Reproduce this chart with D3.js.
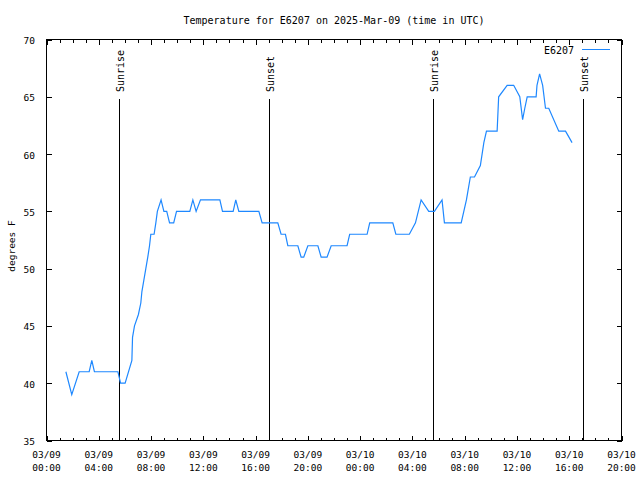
<!DOCTYPE html>
<html>
<head>
<meta charset="utf-8">
<script src="https://cdn.jsdelivr.net/npm/d3@7"></script>
<style>
  html, body { margin: 0; padding: 0; background: #fff; }
  svg { display: block; }
  text { font-family: "DejaVu Sans Mono", monospace; fill: #000; }
</style>
</head>
<body>
<svg id="chart" width="640" height="480"></svg>
<script>
// ---- data ----
const chartTitle = "Temperature for E6207 on 2025-Mar-09 (time in UTC)";
const seriesName = "E6207";
const yLabel = "degrees F";

const times = [
  "2025-03-09T01:29","2025-03-09T01:56","2025-03-09T02:30","2025-03-09T03:16","2025-03-09T03:28",
  "2025-03-09T03:40","2025-03-09T05:28","2025-03-09T05:40","2025-03-09T06:01","2025-03-09T06:32",
  "2025-03-09T06:35","2025-03-09T06:44","2025-03-09T07:02","2025-03-09T07:13","2025-03-09T07:18",
  "2025-03-09T07:27","2025-03-09T07:36","2025-03-09T07:45","2025-03-09T07:53","2025-03-09T07:59",
  "2025-03-09T08:14","2025-03-09T08:22","2025-03-09T08:29","2025-03-09T08:46","2025-03-09T08:59",
  "2025-03-09T09:12","2025-03-09T09:25","2025-03-09T09:44","2025-03-09T09:57","2025-03-09T10:58",
  "2025-03-09T11:12","2025-03-09T11:27","2025-03-09T11:47","2025-03-09T13:16","2025-03-09T13:28",
  "2025-03-09T14:17","2025-03-09T14:29","2025-03-09T14:43","2025-03-09T16:15","2025-03-09T16:30",
  "2025-03-09T17:42","2025-03-09T17:57","2025-03-09T18:17","2025-03-09T18:28","2025-03-09T19:14",
  "2025-03-09T19:29","2025-03-09T19:41","2025-03-09T20:00","2025-03-09T20:46","2025-03-09T21:01",
  "2025-03-09T21:28","2025-03-09T21:47","2025-03-09T23:00","2025-03-09T23:12","2025-03-10T00:32",
  "2025-03-10T00:44","2025-03-10T02:30","2025-03-10T02:44","2025-03-10T03:46","2025-03-10T04:14",
  "2025-03-10T04:40","2025-03-10T05:15","2025-03-10T05:41","2025-03-10T06:16","2025-03-10T06:27",
  "2025-03-10T07:44","2025-03-10T08:08","2025-03-10T08:26","2025-03-10T08:45","2025-03-10T09:12",
  "2025-03-10T09:28","2025-03-10T09:40","2025-03-10T10:29","2025-03-10T10:36","2025-03-10T11:15",
  "2025-03-10T11:45","2025-03-10T12:13","2025-03-10T12:26","2025-03-10T12:36","2025-03-10T12:47",
  "2025-03-10T13:28","2025-03-10T13:32","2025-03-10T13:44","2025-03-10T13:58","2025-03-10T14:11",
  "2025-03-10T14:26","2025-03-10T15:12","2025-03-10T15:43","2025-03-10T16:13"
];
const temps = [
  41,39,41,41,42,
  41,41,40,40,42,
  44,45,46,47,48,
  49,50,51,52,53,
  53,54,55,56,55,
  55,54,54,55,55,
  56,55,56,56,55,
  55,56,55,55,54,
  54,53,53,52,52,
  51,51,52,52,51,
  51,52,52,53,53,
  54,54,53,53,54,
  56,55,55,56,54,
  54,56,58,58,59,
  61,62,62,65,66,
  66,65,63,64,65,
  65,66,67,66,64,
  64,62,62,61
];

const sunEvents = ["Sunrise","Sunset","Sunrise","Sunset"];
const sunTimes = ["2025-03-09T05:36","2025-03-09T17:05","2025-03-10T05:37","2025-03-10T17:05"];

const xDomain = ["2025-03-09T00:00","2025-03-10T20:00"];
const yDomain = [35, 70];
const yTicks = [35, 40, 45, 50, 55, 60, 65, 70];

// ---- drawing ----
const parse = s => new Date(s + ":00Z");
const data = times.map((t, i) => ({ t: parse(t), v: temps[i] }));

const L = 46.5, R = 621.5, T = 39.5, B = 440.5;
const svg = d3.select("#chart");
const x = d3.scaleUtc().domain(xDomain.map(parse)).range([L, R]);
const y = d3.scaleLinear().domain(yDomain).range([B, T]);

const blue = "#1e88ff";

const endX = new Date(parse(xDomain[1]).getTime() + 1);
const majorX = d3.utcHour.every(4).range(parse(xDomain[0]), endX);
const minorX = d3.utcHour.every(1).range(parse(xDomain[0]), endX);

const g = svg.append("g");

const fmtD = d3.utcFormat("%m/%d"), fmtH = d3.utcFormat("%H:%M");
const xAxisMinor = d3.axisBottom(x).tickValues(minorX).tickSize(-3).tickFormat("");
const xAxisMajor = d3.axisBottom(x).tickValues(majorX).tickSize(-5).tickFormat("");
const xTopMinor = d3.axisTop(x).tickValues(minorX).tickSize(-3).tickFormat("");
const xTopMajor = d3.axisTop(x).tickValues(majorX).tickSize(-5).tickFormat("");
const yAxisL = d3.axisLeft(y).tickValues(yTicks).tickSize(-5).tickFormat("");
const yAxisR = d3.axisRight(y).tickValues(yTicks).tickSize(-5).tickFormat("");

function styleAxis(sel) {
  sel.select(".domain").remove();
  sel.selectAll(".tick line").attr("stroke", "#000").attr("stroke-width", 1).attr("shape-rendering", "crispEdges");
}
g.append("g").attr("transform", `translate(0,${B})`).call(xAxisMinor).call(styleAxis);
g.append("g").attr("transform", `translate(0,${B})`).call(xAxisMajor).call(styleAxis);
g.append("g").attr("transform", `translate(0,${T})`).call(xTopMinor).call(styleAxis);
g.append("g").attr("transform", `translate(0,${T})`).call(xTopMajor).call(styleAxis);
g.append("g").attr("transform", `translate(${L},0)`).call(yAxisL).call(styleAxis);
g.append("g").attr("transform", `translate(${R},0)`).call(yAxisR).call(styleAxis);

// x tick labels (two lines)
const xl = g.append("g");
majorX.forEach(d => {
  const t = xl.append("text").attr("x", x(d)).attr("text-anchor", "middle").attr("font-size", 9.5);
  t.append("tspan").attr("x", x(d)).attr("y", 457.5).text(fmtD(d));
  t.append("tspan").attr("x", x(d)).attr("y", 470.5).text(fmtH(d));
});
// y tick labels
yTicks.forEach(v => {
  g.append("text").attr("x", 35).attr("y", y(v) + 4.5).attr("text-anchor", "end")
    .attr("font-size", 9.5).text(v);
});

// border
g.append("rect").attr("x", L).attr("y", T).attr("width", R - L).attr("height", B - T)
  .attr("fill", "none").attr("stroke", "#000").attr("stroke-width", 1).attr("shape-rendering", "crispEdges");

// sunrise / sunset lines
sunTimes.forEach((s, i) => {
  const xv = Math.floor(x(parse(s))) + 0.5;
  g.append("line").attr("x1", xv).attr("x2", xv).attr("y1", 99).attr("y2", B)
    .attr("stroke", "#000").attr("stroke-width", 1).attr("shape-rendering", "crispEdges");
  g.append("text").attr("transform", `translate(${xv + 4},92) rotate(-90)`)
    .attr("text-anchor", "start").attr("font-size", 10).text(sunEvents[i]);
});

// data line
const line = d3.line().x(d => x(d.t)).y(d => y(d.v));
g.append("path").datum(data).attr("d", line).attr("fill", "none")
  .attr("stroke", blue).attr("stroke-width", 1.2);

// legend
g.append("text").attr("x", 574).attr("y", 53.5).attr("text-anchor", "end").attr("font-size", 10).text(seriesName);
g.append("line").attr("x1", 582).attr("x2", 610).attr("y1", 49.5).attr("y2", 49.5)
  .attr("stroke", blue).attr("stroke-width", 1);

// title
svg.append("text").attr("x", (L + R) / 2).attr("y", 23.5).attr("text-anchor", "middle")
  .attr("font-size", 10).text(chartTitle);

// y label
svg.append("text").attr("transform", `translate(14.5,246) rotate(-90)`).attr("text-anchor", "middle")
  .attr("font-size", 9.5).text(yLabel);
</script>
</body>
</html>
